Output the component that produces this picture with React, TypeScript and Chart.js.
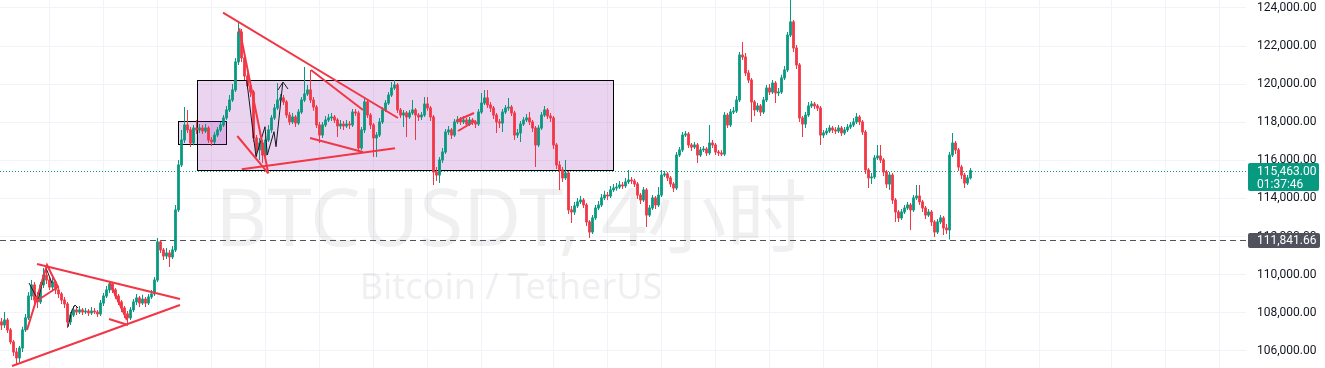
import React, { useEffect, useRef } from "react";
import { Chart, registerables } from "chart.js";

Chart.register(...registerables);

// ---------- DATA (4h candles, index = candle number) ----------
const firstOpen = 107520;

const closes = [
  107360,107620,107100,106470,105940,105630,106150,107100,107730,108880,
  109460,108670,108570,109460,109980,109720,109350,109620,109200,108990,
  108670,108460,107520,107880,108150,108040,108150,108040,108090,107990,
  108090,108040,107940,108510,108880,109200,109510,109200,108880,108570,
  108250,107940,107730,108150,108570,108780,108510,108720,108510,108830,
  108990,109720,111720,111300,110980,111140,110930,111300,113400,115760,
  117070,117860,117600,116910,117700,117600,117700,117540,117700,117070,
  116970,117330,117600,117860,118230,118650,119170,119700,121170,122740,
  121380,120430,119910,119590,117180,116550,116910,116280,117070,117600,
  118230,118750,119170,119280,119070,118380,118020,118280,117960,118540,
  119170,119490,119700,119170,118800,117860,117330,117860,118120,118230,
  118280,118120,117810,117910,117810,117910,117860,118540,118490,116650,
  117600,119070,118380,117860,117180,117330,118020,118650,119010,119430,
  119800,119960,118650,118380,118490,118280,118490,118650,118380,118280,
  118380,118960,118750,118280,115390,115230,116020,116440,117490,117600,
  117330,118020,118120,118020,118120,117910,118120,118020,117910,118540,
  119010,119280,118910,118750,118380,118020,117960,118540,118750,118800,
  118490,117330,117440,117910,118120,118230,118020,117700,116810,117700,
  118380,118650,118330,118230,116810,115760,115500,115080,115340,113400,
  113290,113610,113820,113920,113660,112770,112240,112980,113500,113660,
  114030,114180,114130,114450,114550,114600,114710,114660,114870,114970,
  114920,114760,114180,113920,114450,113130,113500,114030,113660,114180,
  115230,115290,115080,114760,114550,116280,116550,117330,117390,116810,
  116700,116810,116280,116550,116600,116390,116910,116810,116440,116390,
  116330,118380,117860,118540,118590,119170,121530,121430,120590,120220,
  119070,118650,118860,118540,119170,119800,119590,120060,119540,119590,
  120330,120750,122580,123270,121900,121010,118230,117910,118380,118860,
  118960,118860,118750,117330,117440,117540,117700,117600,117540,117700,
  117440,117600,117750,117860,118020,118280,118020,117490,115500,115080,
  115130,116130,116230,116020,115390,114760,115230,113920,113290,112980,
  113290,113500,113660,113400,114030,114130,113820,113500,113130,113290,
  112770,112240,112770,112980,112450,112350,116280,116910,116550,115650,
  115230,114810,115080,115463,
];

const highs = [
  107730,108040,107730,107200,106570,106150,106250,107260,107940,109090,
  109720,109620,109090,109620,110350,110400,109880,109880,109720,109400,
  109090,108830,108570,108040,108360,108300,108360,108250,108250,108200,
  108300,108250,108150,108670,109040,109400,109670,109620,109300,108990,
  108670,108360,108090,108300,108720,108990,108880,108940,108830,108990,
  109200,109880,111930,111820,111400,111400,111300,111510,113660,116020,
  117600,118800,118650,117750,117860,118120,117910,117860,117910,117810,
  117230,117490,117750,118020,118380,118860,119430,120010,121380,123210,
  122900,121530,120590,120170,119700,117330,117180,117070,117280,117860,
  118380,118960,120060,119490,119430,119170,118540,118490,118380,118700,
  119330,120900,119960,120750,119330,118910,118020,118020,118330,118430,
  118490,118380,118230,118120,118070,118120,118070,118700,118700,118600,
  117750,119330,119170,118490,117960,117490,118230,118800,119170,119590,
  120110,120220,120060,118750,118650,118590,118650,119170,118750,118490,
  118540,119330,119330,118860,118380,115650,116180,116650,117650,117810,
  117700,118170,118330,118280,118330,118230,118280,118230,118120,118700,
  119540,119700,119700,119070,118860,118490,118170,118700,118910,119280,
  118910,118600,117650,118070,118280,118430,118540,118120,117810,117860,
  118540,118860,118750,118490,118330,116910,115970,115650,116020,115440,
  113610,113820,114030,114130,114030,113760,112870,113130,113660,113870,
  114240,114400,114340,114660,114760,114810,114920,114870,115080,115500,
  115130,115030,114870,114290,114600,114550,113660,114180,114130,114600,
  115500,115440,115390,115180,114870,116440,116700,117490,117540,117490,
  116910,116970,116910,116700,116760,116700,117860,117070,116910,116550,
  116550,118540,118490,118700,118800,119380,121690,122220,121640,120750,
  120330,119170,119010,118960,119330,119960,120010,120220,120170,119800,
  120490,120960,122740,124460,123370,122060,121110,118330,118540,119070,
  119120,119070,118960,118860,117600,117700,117860,117810,117750,117860,
  117810,117750,117910,118020,118230,118490,118380,118120,117600,115600,
  115340,116280,116810,116810,116130,115500,115390,115340,114030,113400,
  113450,113660,113820,113760,114180,114710,114710,113920,113610,113450,
  113400,112870,112920,113130,113080,112660,116440,117440,117020,116650,
  115760,115340,115230,115600,
];

const lows = [
  107100,107200,106940,106350,105730,105260,105410,105940,106990,107620,
  108670,108460,108250,108460,109300,109510,109200,109150,108990,108780,
  108460,108250,107200,107360,107780,107880,107940,107880,107940,107830,
  107880,107940,107780,107830,108360,108780,109040,109040,108720,108410,
  108040,107730,107360,107620,108040,108410,108300,108410,108300,108410,
  108720,108880,109620,111140,110770,110820,110400,110820,111190,113290,
  115650,116910,117440,116700,116800,117390,117440,117390,117440,116910,
  116760,116860,117230,117490,117750,118120,118540,119070,119590,121010,
  121170,120220,119750,119330,116970,116180,116020,115860,116130,116970,
  117440,118120,118650,119010,118910,118230,117860,117910,117750,117860,
  118430,119070,119380,119010,118600,117700,116910,117180,117750,118020,
  118070,117960,117230,117650,117600,117700,117650,117750,118330,116440,
  116550,117440,118230,117650,116180,116180,117230,117910,118540,118910,
  119330,119700,118490,118230,117750,117230,118170,118380,117070,118070,
  118120,118280,118600,118070,114710,114920,114810,115860,116330,117330,
  117120,117230,117910,117860,117910,117750,117810,117860,117700,117810,
  118430,118910,118750,118540,118170,117440,117700,117490,118430,118600,
  118330,117070,117180,116970,117810,118020,117860,117490,115650,116700,
  117600,118280,118170,118020,116600,115550,114450,114870,114970,113190,
  112710,113130,113500,113710,113500,112560,111930,112140,112870,113400,
  113550,113920,113920,114030,114340,114400,114500,114500,114550,114760,
  114760,114600,113970,113710,113820,112500,113030,113400,113450,113550,
  114080,115130,114920,114600,114340,114450,116180,116440,117230,116650,
  116490,116600,115860,116180,116440,116230,116280,116650,116280,116230,
  116230,116230,117700,117750,118430,118490,119070,121270,120430,120060,
  118020,118330,118540,118330,118430,119070,119430,119490,119010,119380,
  119490,120220,120640,122480,121690,120800,118020,117230,117700,118280,
  118750,118700,118590,116810,117180,117330,117440,117440,117390,117440,
  117280,117330,117490,117650,117750,117910,117860,117330,115290,114550,
  114760,115020,116020,115860,115180,114550,114450,113710,112770,112770,
  112870,113180,113400,112350,113290,113920,113660,113290,112920,113030,
  112560,111980,112140,112660,112080,112140,111842,116180,116330,115440,
  115020,114550,114710,115000,
];

const priceTicks = [106000, 108000, 110000, 112000, 114000, 116000, 118000, 120000, 122000, 124000];
// candle indices where the time grid lines fall
const timeGridIndex = [16, 34, 52, 70, 88, 106, 124, 142, 160, 184, 202, 220, 238, 256, 274, 292, 310, 328, 346, 370, 388, 406];

const viewMinIndex = -0.5;
const viewMaxIndex = 414.83;
const viewMinPrice = 105100;
const viewMaxPrice = 124420;

const lastPrice = 115463;
const countdown = "01:37:46";
const levelPrice = 111841.66;

const symbolTitle = "BTCUSDT, 4小时";
const symbolDesc = "Bitcoin / TetherUS";

// drawings: [candleIndex, price]
const redDrawings: [number, number][][] = [
  [[3.5, 105205], [59.5, 108410]],
  [[11.83, 110560], [59.5, 108720]],
  [[8.5, 107095], [15.17, 110508], [18.83, 109353], [11.17, 108565]],
  [[36.17, 109563], [41.83, 107620]],
  [[35.83, 107673], [42.17, 107357]],
  [[73.83, 123753], [132.17, 118225]],
  [[79.27, 122934], [88.93, 115322]],
  [[78.6, 117280], [88.93, 115322]],
  [[80.07, 115532], [131.17, 116634]],
  [[102.83, 117175], [120.5, 116440]],
  [[103.17, 120745], [120.5, 118645]],
  [[151.5, 118068], [157.5, 118488]],
  [[152.17, 117543], [157.83, 118068]],
];

const blackDrawings: [number, number][][] = [
  [[9.17, 109563], [12.17, 108670], [14.83, 110350], [16.83, 109563]],
  [[22.17, 107253], [23.5, 108145], [24.5, 108408], [25.5, 108250]],
  [[81.73, 120220], [84.83, 116193], [87.83, 117768], [88.6, 116283], [90.83, 117505], [91.5, 116718], [93.73, 120047]],
  [[92.17, 119695], [93.83, 120115], [95.5, 119748]],
];

const boxStarts = [58.8, 65.2];
const boxEnds = [74.8, 203.8];
const boxTops = [118070, 120220];
const boxBottoms = [116860, 115500];

// ---------- STYLE ----------
const UP = "#089981";
const DOWN = "#f23645";
const GRID = "#f0f3fa";
const TEXT = "#131722";
const FONT = 'Roboto, "Noto Sans", sans-serif';

const fmt = (v: number) =>
  v.toLocaleString("en-US", { minimumFractionDigits: 2, maximumFractionDigits: 2 });

const opens = closes.map((_, i) => (i === 0 ? firstOpen : closes[i - 1]));
const candleColors = closes.map((c, i) => (c >= opens[i] ? UP : DOWN));

const overlayPlugin = {
  id: "tvOverlay",
  beforeDatasetsDraw(chart: any) {
    const { ctx, chartArea, scales } = chart;
    const x = scales.x;
    const y = scales.y;
    ctx.save();
    ctx.beginPath();
    ctx.rect(chartArea.left, chartArea.top, chartArea.right - chartArea.left, chartArea.bottom - chartArea.top);
    ctx.clip();

    // watermark
    ctx.fillStyle = "rgba(42,46,57,0.07)";
    ctx.textAlign = "center";
    ctx.textBaseline = "alphabetic";
    ctx.font = '80px "Noto Sans", "Noto Sans CJK SC", sans-serif';
    ctx.fillText(symbolTitle, 511, 246);
    ctx.font = '36px "Noto Sans", "Noto Sans CJK SC", sans-serif';
    ctx.fillText(symbolDesc, 511, 299);

    // rectangles
    for (let k = 0; k < boxStarts.length; k++) {
      const x0 = Math.round(x.getPixelForValue(boxStarts[k])) + 0.5;
      const x1 = Math.round(x.getPixelForValue(boxEnds[k])) + 0.5;
      const y0 = Math.round(y.getPixelForValue(boxTops[k])) + 0.5;
      const y1 = Math.round(y.getPixelForValue(boxBottoms[k])) + 0.5;
      ctx.fillStyle = "rgba(156,39,176,0.2)";
      ctx.fillRect(x0, y0, x1 - x0, y1 - y0);
      ctx.strokeStyle = "#000000";
      ctx.lineWidth = 1;
      ctx.strokeRect(x0, y0, x1 - x0, y1 - y0);
    }

    // last price line (dotted) and level line (dashed)
    const yl = Math.round(y.getPixelForValue(lastPrice)) + 0.5;
    ctx.strokeStyle = UP;
    ctx.lineWidth = 1;
    ctx.setLineDash([1, 2]);
    ctx.beginPath();
    ctx.moveTo(chartArea.left, yl);
    ctx.lineTo(chartArea.right, yl);
    ctx.stroke();

    const yd = Math.round(y.getPixelForValue(levelPrice)) + 0.5;
    ctx.strokeStyle = "#50535e";
    ctx.setLineDash([6, 4]);
    ctx.beginPath();
    ctx.moveTo(chartArea.left, yd);
    ctx.lineTo(chartArea.right, yd);
    ctx.stroke();
    ctx.setLineDash([]);
    ctx.restore();
  },
  afterDraw(chart: any) {
    const { ctx, chartArea, scales } = chart;
    const y = scales.y;
    const bx = chartArea.right + 2;
    const tx = chartArea.right + 11;
    ctx.save();
    ctx.font = `12px ${FONT}`;
    ctx.textAlign = "left";
    ctx.textBaseline = "middle";

    const yl = Math.round(y.getPixelForValue(lastPrice));
    ctx.fillStyle = UP;
    ctx.beginPath();
    if (ctx.roundRect) ctx.roundRect(bx, yl - 8, 71, 28, 2);
    else ctx.rect(bx, yl - 8, 71, 28);
    ctx.fill();
    ctx.fillStyle = "#ffffff";
    ctx.fillText(fmt(lastPrice), tx, yl + 0.5);
    ctx.fillText(countdown, tx, yl + 13.5);

    const yd = Math.round(y.getPixelForValue(levelPrice));
    ctx.fillStyle = "#50535e";
    ctx.beginPath();
    if (ctx.roundRect) ctx.roundRect(bx, yd - 7, 72, 15, 2);
    else ctx.rect(bx, yd - 7, 72, 15);
    ctx.fill();
    ctx.fillStyle = "#ffffff";
    ctx.fillText(fmt(levelPrice), tx, yd + 0.5);
    ctx.restore();
  },
};

export default function App() {
  const canvasRef = useRef<HTMLCanvasElement | null>(null);

  useEffect(() => {
    const canvas = canvasRef.current;
    if (!canvas) return;

    const wickData = closes.map((_, i) => ({ x: i, y: [lows[i], highs[i]] }));
    const bodyData = closes.map((c, i) => ({ x: i, y: [opens[i], c] }));

    const lineSets = [
      ...redDrawings.map((pts) => ({
        type: "line" as const,
        data: pts.map(([a, b]) => ({ x: a, y: b })),
        borderColor: "#f23645",
        borderWidth: 2,
        pointRadius: 0,
        tension: 0,
        fill: false,
        order: 0,
      })),
      ...blackDrawings.map((pts) => ({
        type: "line" as const,
        data: pts.map(([a, b]) => ({ x: a, y: b })),
        borderColor: "#131722",
        borderWidth: 1,
        pointRadius: 0,
        tension: 0,
        fill: false,
        order: 0,
      })),
    ];

    const chart = new Chart(canvas, {
      type: "bar",
      data: {
        datasets: [
          {
            type: "bar",
            data: wickData as any,
            backgroundColor: candleColors,
            barThickness: 1,
            grouped: false,
            inflateAmount: 0,
            order: 3,
          } as any,
          {
            type: "bar",
            data: bodyData as any,
            backgroundColor: candleColors,
            barThickness: 2,
            grouped: false,
            inflateAmount: 0.4,
            order: 2,
          } as any,
          ...(lineSets as any),
        ],
      },
      options: {
        animation: false,
        responsive: false,
        devicePixelRatio: 1,
        events: [],
        layout: { padding: 0 },
        plugins: { legend: { display: false }, tooltip: { enabled: false } },
        scales: {
          x: {
            type: "linear",
            min: viewMinIndex,
            max: viewMaxIndex,
            offset: false,
            grid: { color: GRID, drawTicks: false, offset: false },
            border: { display: false },
            ticks: { display: false },
            afterBuildTicks: (s: any) => {
              s.ticks = timeGridIndex.map((v) => ({ value: v }));
            },
            afterFit: (s: any) => {
              s.height = 0;
              s.paddingLeft = 0;
              s.paddingRight = 0;
              s.paddingTop = 0;
              s.paddingBottom = 0;
            },
          },
          y: {
            type: "linear",
            position: "right",
            min: viewMinPrice,
            max: viewMaxPrice,
            beginAtZero: false,
            grid: { color: GRID, drawTicks: false },
            border: { display: false },
            ticks: {
              color: TEXT,
              padding: 11,
              font: { family: FONT, size: 12 },
              callback: (v: any) => fmt(Number(v)),
            },
            afterBuildTicks: (s: any) => {
              s.ticks = priceTicks.map((v) => ({ value: v }));
            },
            afterFit: (s: any) => {
              s.width = 79;
              s.paddingTop = 0;
              s.paddingBottom = 0;
              s.paddingLeft = 0;
              s.paddingRight = 0;
            },
          },
        },
      } as any,
      plugins: [overlayPlugin],
    });

    return () => chart.destroy();
  }, []);

  return (
    <div style={{ position: "absolute", left: 0, top: 0, width: 1325, height: 368, background: "#ffffff" }}>
      <canvas ref={canvasRef} width={1325} height={368} style={{ display: "block" }} />
    </div>
  );
}
